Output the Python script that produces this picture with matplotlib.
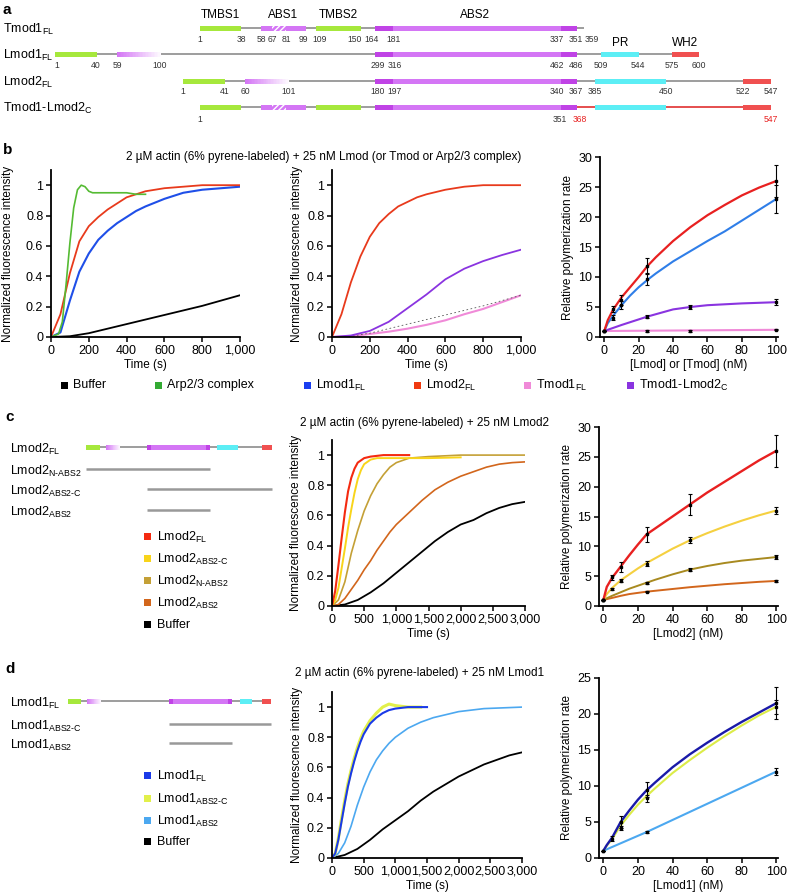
import matplotlib.pyplot as plt
from matplotlib.patches import Rectangle
from matplotlib.ticker import FuncFormatter
import numpy as np

plt.rcParams['font.family'] = ['Liberation Sans', 'DejaVu Sans']
plt.rcParams['mathtext.default'] = 'regular'

W, H = 788, 894

# ---------------- panel b: kinetics (time in s, normalized intensity) ----------------
b_buffer_t = [0, 100, 200, 300, 400, 500, 600, 700, 800, 900, 1000]
b_buffer_y = [0, 0.005, 0.025, 0.055, 0.085, 0.115, 0.145, 0.175, 0.205, 0.24, 0.275]
b_arp_t = [0, 40, 60, 80, 100, 120, 140, 160, 180, 200, 220, 260, 300, 350, 400, 450, 500]
b_arp_y = [0, 0.02, 0.1, 0.35, 0.62, 0.85, 0.97, 1.0, 0.99, 0.96, 0.95, 0.95, 0.95, 0.95, 0.95, 0.94, 0.94]
b_lmod1_t = [0, 50, 100, 150, 200, 250, 300, 350, 400, 450, 500, 600, 700, 800, 900, 1000]
b_lmod1_y = [0, 0.03, 0.24, 0.43, 0.55, 0.64, 0.7, 0.75, 0.79, 0.83, 0.86, 0.91, 0.95, 0.97, 0.98, 0.99]
b_lmod2_t = [0, 50, 100, 150, 200, 250, 300, 350, 400, 450, 500, 600, 700, 800, 1000]
b_lmod2_y = [0, 0.15, 0.42, 0.63, 0.73, 0.79, 0.84, 0.88, 0.92, 0.94, 0.96, 0.98, 0.99, 1.0, 1.0]

b2_lmod2_t = [0, 50, 100, 150, 200, 250, 300, 350, 400, 450, 500, 600, 700, 800, 1000]
b2_lmod2_y = [0, 0.15, 0.36, 0.53, 0.66, 0.75, 0.81, 0.86, 0.89, 0.92, 0.94, 0.97, 0.99, 1.0, 1.0]
b2_chim_t = [0, 100, 200, 300, 400, 500, 600, 700, 800, 900, 1000]
b2_chim_y = [0, 0.01, 0.04, 0.1, 0.19, 0.28, 0.38, 0.45, 0.5, 0.54, 0.575]
b2_tmod1_t = [0, 100, 200, 300, 400, 500, 600, 700, 800, 900, 1000]
b2_tmod1_y = [0, 0.005, 0.02, 0.035, 0.055, 0.08, 0.11, 0.15, 0.185, 0.23, 0.275]

# panel b: relative polymerization rate vs concentration
conc_grid = [0, 2, 5, 10, 15, 20, 25, 30, 40, 50, 60, 70, 80, 90, 100]
b3_lmod2_fit = [1, 2.8, 4.5, 6.6, 8.3, 10.0, 11.8, 13.3, 16.0, 18.3, 20.3, 22.0, 23.6, 24.9, 26.0]
b3_lmod1_fit = [1, 2.3, 3.5, 5.3, 6.9, 8.3, 9.5, 10.6, 12.6, 14.3, 16.0, 17.6, 19.4, 21.2, 23.0]
b3_chim_conc = [0, 10, 25, 40, 50, 60, 80, 100]
b3_chim_fit = [1, 2.0, 3.4, 4.6, 5.0, 5.3, 5.6, 5.8]
b3_tmod_conc = [0, 100]
b3_tmod_fit = [1, 1.2]

b3_lmod2_pc, b3_lmod2_pm, b3_lmod2_pe = [0, 5, 10, 25, 100], [1, 4.6, 6.2, 11.8, 26.0], [0, 0.5, 0.8, 1.3, 2.7]
b3_lmod1_pc, b3_lmod1_pm, b3_lmod1_pe = [0, 5, 10, 25, 100], [1, 3.2, 5.3, 9.6, 23.0], [0, 0.4, 0.7, 1.0, 2.4]
b3_chim_pc, b3_chim_pm, b3_chim_pe = [0, 25, 50, 100], [1, 3.4, 5.0, 5.8], [0, 0.3, 0.4, 0.5]
b3_tmod_pc, b3_tmod_pm, b3_tmod_pe = [0, 25, 50, 100], [1, 1.0, 1.0, 1.2], [0, 0.1, 0.1, 0.1]

# ---------------- panel c ----------------
c_fl_t = [0, 50, 100, 150, 200, 250, 300, 350, 400, 500, 600, 800, 1200]
c_fl_y = [0, 0.1, 0.27, 0.45, 0.62, 0.76, 0.85, 0.91, 0.95, 0.98, 0.99, 1.0, 1.0]
c_abs2c_t = [0, 50, 100, 150, 200, 250, 300, 350, 400, 450, 500, 600, 700, 1000, 1500, 2000]
c_abs2c_y = [0, 0.04, 0.12, 0.25, 0.38, 0.52, 0.64, 0.75, 0.84, 0.9, 0.94, 0.97, 0.98, 0.98, 0.98, 0.985]
c_nabs2_t = [0, 100, 200, 300, 400, 500, 600, 700, 800, 900, 1000, 1200, 1500, 2000, 3000]
c_nabs2_y = [0, 0.04, 0.16, 0.35, 0.5, 0.63, 0.73, 0.81, 0.87, 0.92, 0.95, 0.98, 0.99, 1.0, 1.0]
c_abs2_t = [0, 100, 200, 300, 400, 500, 600, 700, 800, 900, 1000, 1200, 1400, 1600, 1800, 2000, 2200, 2400, 2600, 2800, 3000]
c_abs2_y = [0, 0.01, 0.05, 0.11, 0.17, 0.24, 0.3, 0.37, 0.43, 0.49, 0.54, 0.62, 0.7, 0.77, 0.82, 0.86, 0.89, 0.92, 0.94, 0.95, 0.955]
c_buf_t = [0, 200, 400, 600, 800, 1000, 1200, 1400, 1600, 1800, 2000, 2200, 2400, 2600, 2800, 3000]
c_buf_y = [0, 0.01, 0.04, 0.09, 0.15, 0.22, 0.29, 0.36, 0.43, 0.49, 0.54, 0.57, 0.615, 0.65, 0.675, 0.69]

c_fl_fit = [1, 3.2, 4.7, 6.6, 8.5, 10.3, 12.0, 13.0, 15.0, 17.0, 19.0, 20.8, 22.6, 24.4, 26.0]
c_abs2c_fit = [1, 2.0, 3.0, 4.3, 5.3, 6.3, 7.2, 8.0, 9.6, 11.0, 12.2, 13.3, 14.3, 15.2, 16.0]
c_nabs2_fit = [1, 1.3, 1.7, 2.3, 2.9, 3.4, 3.9, 4.4, 5.3, 6.1, 6.7, 7.2, 7.6, 7.9, 8.2]
c_abs2_fit = [1, 1.15, 1.35, 1.7, 2.0, 2.2, 2.4, 2.55, 2.85, 3.15, 3.4, 3.65, 3.85, 4.05, 4.2]
c_fl_pc, c_fl_pm, c_fl_pe = [0, 5, 10, 25, 50, 100], [1, 4.8, 6.5, 12.0, 17.0, 26.0], [0, 0.4, 0.8, 1.2, 1.8, 2.7]
c_abs2c_pc, c_abs2c_pm, c_abs2c_pe = [0, 5, 10, 25, 50, 100], [1, 2.8, 4.2, 7.1, 11.0, 16.0], [0, 0.15, 0.25, 0.4, 0.5, 0.6]
c_nabs2_pc, c_nabs2_pm, c_nabs2_pe = [0, 25, 50, 100], [1, 3.9, 6.1, 8.2], [0, 0.15, 0.3, 0.4]
c_abs2_pc, c_abs2_pm, c_abs2_pe = [0, 25, 100], [1, 2.4, 4.2], [0, 0.1, 0.2]

# ---------------- panel d ----------------
d_fl_t = [0, 50, 100, 150, 200, 250, 300, 350, 400, 450, 500, 600, 700, 800, 900, 1000, 1200, 1500]
d_fl_y = [0, 0.03, 0.12, 0.24, 0.36, 0.47, 0.56, 0.64, 0.71, 0.77, 0.82, 0.89, 0.93, 0.96, 0.98, 0.99, 1.0, 1.0]
d_abs2c_t = [0, 50, 100, 150, 200, 250, 300, 350, 400, 450, 500, 600, 700, 800, 900, 1000, 1200, 1400]
d_abs2c_y = [0, 0.03, 0.13, 0.26, 0.38, 0.49, 0.58, 0.66, 0.73, 0.79, 0.84, 0.91, 0.96, 1.0, 1.02, 1.01, 1.0, 1.0]
d_abs2_t = [0, 100, 200, 300, 400, 500, 600, 700, 800, 900, 1000, 1200, 1400, 1600, 1800, 2000, 2400, 3000]
d_abs2_y = [0, 0.03, 0.1, 0.21, 0.35, 0.47, 0.57, 0.65, 0.71, 0.76, 0.8, 0.86, 0.9, 0.93, 0.95, 0.97, 0.99, 1.0]
d_buf_t = [0, 200, 400, 600, 800, 1000, 1200, 1400, 1600, 1800, 2000, 2200, 2400, 2600, 2800, 3000]
d_buf_y = [0, 0.02, 0.06, 0.12, 0.19, 0.25, 0.31, 0.38, 0.44, 0.49, 0.54, 0.58, 0.62, 0.65, 0.68, 0.7]

d_fl_fit = [1, 1.8, 2.8, 5.0, 6.6, 8.1, 9.4, 10.5, 12.6, 14.4, 16.0, 17.5, 18.9, 20.2, 21.5]
d_abs2c_fit = [1, 1.7, 2.6, 4.5, 6.0, 7.4, 8.6, 9.7, 11.8, 13.6, 15.3, 16.9, 18.4, 19.8, 21.0]
d_abs2_conc = [0, 25, 100]
d_abs2_fit = [1, 3.6, 12.0]
d_fl_pc, d_fl_pm, d_fl_pe = [0, 5, 10, 25, 100], [1, 2.7, 5.0, 9.5, 21.5], [0, 0.3, 0.8, 1.0, 2.2]
d_abs2c_pc, d_abs2c_pm, d_abs2c_pe = [10, 25, 100], [4.2, 8.3, 21.0], [0.3, 0.5, 1.0]
d_abs2_pc, d_abs2_pm, d_abs2_pe = [0, 25, 100], [1, 3.6, 12.0], [0, 0.15, 0.5]

# colours
GREEN, MAG, MAGD, CYAN, RED, GRAY = '#a6e83c', '#d476f5', '#c043e6', '#5ceef5', '#f05050', '#8c8c8c'

fig = plt.figure(figsize=(W / 100, H / 100), dpi=100)
ov = fig.add_axes([0, 0, 1, 1])
ov.set_xlim(0, W)
ov.set_ylim(H, 0)
ov.axis('off')


def sub(name, s):
    return name + r'$_{\mathregular{' + s.replace('-', '\u2010') + '}}$'


def box(x0, x1, y, color, h=5):
    ov.add_patch(Rectangle((x0, y - h / 2), x1 - x0, h, fc=color, ec='none', zorder=3))


def grad_box(x0, x1, y, h=5):
    n = 30
    edges = np.linspace(x0, x1, n + 1)
    c0 = np.array([0.83, 0.46, 0.96])
    for i in range(n):
        f = i / n
        col = c0 * (1 - f) + np.array([1, 1, 1]) * f
        ov.add_patch(Rectangle((edges[i], y - h / 2), edges[i + 1] - edges[i] + 0.3, h,
                               fc=col, ec='none', zorder=3))


def abs2_box(x0, x1, y, e0, e1, h=5):
    box(x0, x1, y, MAG, h)
    box(x0, e0, y, MAGD, h)
    box(e1, x1, y, MAGD, h)


def hatch_box(x0, x1, y, h=5):
    ov.add_patch(Rectangle((x0, y - h / 2), x1 - x0, h, fc=MAG, ec='white', lw=0,
                           hatch='//////', zorder=4))


def line(x0, x1, y, color=GRAY, lw=1.2):
    ov.plot([x0, x1], [y, y], color=color, lw=lw, zorder=2, solid_capstyle='butt')


# ---------------- panel a ----------------
ov.text(3, 10, 'a', fontsize=11, fontweight='bold', va='center')
for lab, x, y in [('TMBS1', 220, 15), ('ABS1', 283, 15), ('TMBS2', 338, 15), ('ABS2', 475, 15),
                  ('PR', 620, 43), ('WH2', 685, 43)]:
    ov.text(x, y, lab, fontsize=8.5, ha='center', va='center')

row_names = [sub('Tmod1', 'FL'), sub('Lmod1', 'FL'), sub('Lmod2', 'FL'), sub('Tmod1-Lmod2', 'C')]
row_y = [28, 54, 81, 107]
for nm, y in zip(row_names, row_y):
    ov.text(3, y + 1, nm, fontsize=9, va='center')

# Tmod1 FL
y = row_y[0]
line(200, 584, y)
box(200, 241, y, GREEN); box(261, 306, y, MAG); hatch_box(272, 286, y)
box(316, 361, y, GREEN); abs2_box(375, 577, y, 393, 561)
# Lmod1 FL
y = row_y[1]
line(55, 699, y)
box(55, 97, y, GREEN); grad_box(117, 161, y); abs2_box(375, 577, y, 393, 561)
box(601, 639, y, CYAN); box(672, 699, y, RED)
# Lmod2 FL
y = row_y[2]
line(183, 771, y)
box(183, 225, y, GREEN); grad_box(245, 289, y); abs2_box(375, 577, y, 393, 561)
box(595, 666, y, CYAN); box(743, 771, y, RED)
# Tmod1-Lmod2 C
y = row_y[3]
line(200, 577, y); line(577, 771, y, color='#e03030')
box(200, 241, y, GREEN); box(261, 306, y, MAG); hatch_box(272, 286, y)
box(316, 361, y, GREEN); abs2_box(375, 577, y, 393, 561)
box(595, 666, y, CYAN); box(743, 771, y, RED)

res_tmod1 = ['1', '38', '58', '67', '81', '99', '109', '150', '164', '181', '337', '351', '359']
res_tmod1_x = [200, 241, 261, 272, 286, 303, 320, 355, 372, 394, 557, 576, 592]
res_lmod1 = ['1', '40', '59', '100', '299', '316', '462', '486', '509', '544', '575', '600']
res_lmod1_x = [57, 96, 117, 160, 378, 395, 557, 576, 601, 638, 672, 699]
res_lmod2 = ['1', '41', '60', '101', '180', '197', '340', '367', '385', '450', '522', '547']
res_lmod2_x = [183, 225, 245, 289, 378, 395, 557, 576, 595, 666, 743, 771]
res_chim = ['1', '351', '368', '547']
res_chim_x = [200, 560, 580, 771]
res_chim_c = ['#333333', '#333333', '#e82020', '#e82020']
for labs, xs, yy in [(res_tmod1, res_tmod1_x, 39), (res_lmod1, res_lmod1_x, 65), (res_lmod2, res_lmod2_x, 92)]:
    for t, x in zip(labs, xs):
        ov.text(x, yy, t, fontsize=6.2, ha='center', va='center', color='#333333')
for t, x, c in zip(res_chim, res_chim_x, res_chim_c):
    ov.text(x, 119, t, fontsize=6.2, ha='center', va='center', color=c)

# ---------------- helpers for axes ----------------

def px_axes(l, t, r, b):
    ax = fig.add_axes([l / W, 1 - b / H, (r - l) / W, (b - t) / H])
    for s in ['top', 'right']:
        ax.spines[s].set_visible(False)
    for s in ['left', 'bottom']:
        ax.spines[s].set_linewidth(1.3)
    ax.tick_params(direction='out', length=3.5, width=1.1, labelsize=9, pad=2)
    ax.patch.set_alpha(0)
    return ax


yfmt = FuncFormatter(lambda v, p: '0' if v == 0 else ('1' if v == 1 else f'{v:.1f}'))
tfmt = FuncFormatter(lambda v, p: f'{int(v):,}')


def kin_axes(l, t, r, b, tmax, tstep, lab_x=-0.155):
    ax = px_axes(l, t, r, b)
    ax.set_xlim(0, tmax)
    ax.set_ylim(0, 1.1)
    ax.set_xticks(np.arange(0, tmax + 1, tstep))
    ax.set_yticks([0, 0.2, 0.4, 0.6, 0.8, 1.0])
    ax.xaxis.set_major_formatter(tfmt)
    ax.yaxis.set_major_formatter(yfmt)
    ax.set_ylabel('Normalized fluorescence intensity', fontsize=8.5)
    ax.yaxis.set_label_coords(lab_x, 0.5)
    ax.set_xlabel('Time (s)', fontsize=8.5, labelpad=2)
    return ax


def rate_axes(l, t, r, b, ymax, xlabel):
    ax = px_axes(l, t, r, b)
    ax.set_xlim(-2.5, 101)
    ax.set_ylim(0, ymax)
    ax.set_xticks([0, 20, 40, 60, 80, 100])
    ax.set_yticks(np.arange(0, ymax + 1, 5))
    ax.set_ylabel('Relative polymerization rate', fontsize=8.5)
    ax.yaxis.set_label_coords(-0.145, 0.5)
    ax.set_xlabel(xlabel, fontsize=8.5, labelpad=2)
    return ax


def pts(ax, c, m, e):
    ax.errorbar(c, m, yerr=e, fmt='s', ms=2, color='black', ecolor='black',
                elinewidth=0.8, capsize=1.5, capthick=0.8, zorder=5)


# ---------------- panel b ----------------
ov.text(3, 150, 'b', fontsize=11, fontweight='bold', va='center')
ov.text(324, 157, '2 µM actin (6% pyrene-labeled) + 25 nM Lmod (or Tmod or Arp2/3 complex)',
        fontsize=8.5, ha='center', va='center')

B_BLACK, B_GREEN, B_BLUE, B_RED, B_PINK, B_PURP = 'black', '#55bb33', '#1f4fe8', '#e83a1c', '#f08ad8', '#8a34e0'

ax = kin_axes(51, 170, 240, 337, 1000, 200, lab_x=-0.195)
ax.plot(b_buffer_t, b_buffer_y, color=B_BLACK, lw=1.3)
ax.plot(b_lmod1_t, b_lmod1_y, color=B_BLUE, lw=1.5)
ax.plot(b_lmod2_t, b_lmod2_y, color=B_RED, lw=1.3)
ax.plot(b_arp_t, b_arp_y, color=B_GREEN, lw=1.2)

ax = kin_axes(332, 170, 521, 337, 1000, 200)
ax.plot(b2_tmod1_t, b2_tmod1_y, color=B_PINK, lw=1.5)
ax.plot(b_buffer_t, b_buffer_y, color='#555555', lw=0.6, ls=(0, (2, 3)))
ax.plot(b2_chim_t, b2_chim_y, color=B_PURP, lw=1.3)
ax.plot(b2_lmod2_t, b2_lmod2_y, color=B_RED, lw=1.3)

ax = rate_axes(600, 157, 778, 337, 30, '[Lmod] or [Tmod] (nM)')
ax.plot(b3_tmod_conc, b3_tmod_fit, color=B_PINK, lw=1.5)
ax.plot(b3_chim_conc, b3_chim_fit, color=B_PURP, lw=1.5)
ax.plot(conc_grid, b3_lmod1_fit, color='#2f7ee8', lw=1.5)
ax.plot(conc_grid, b3_lmod2_fit, color='#e82020', lw=1.6)
pts(ax, b3_tmod_pc, b3_tmod_pm, b3_tmod_pe)
pts(ax, b3_chim_pc, b3_chim_pm, b3_chim_pe)
pts(ax, b3_lmod1_pc, b3_lmod1_pm, b3_lmod1_pe)
pts(ax, b3_lmod2_pc, b3_lmod2_pm, b3_lmod2_pe)

b_leg_labels = ['Buffer', 'Arp2/3 complex', sub('Lmod1', 'FL'), sub('Lmod2', 'FL'), sub('Tmod1', 'FL'), sub('Tmod1-Lmod2', 'C')]
b_leg_colors = [B_BLACK, '#33aa33', '#1a3ef0', '#f03a10', B_PINK, B_PURP]
b_leg_x = [65, 159, 308, 418, 528, 631]
for lab, col, x in zip(b_leg_labels, b_leg_colors, b_leg_x):
    ov.add_patch(Rectangle((x - 3.5, 385 - 3.5), 7, 7, fc=col, ec='none'))
    ov.text(x + 8, 385, lab, fontsize=9, va='center')

# ---------------- panel c ----------------
ov.text(5, 417, 'c', fontsize=11, fontweight='bold', va='center')
ov.text(425, 423, '2 µM actin (6% pyrene-labeled) + 25 nM Lmod2', fontsize=8.5, ha='center', va='center')

y = 447
ov.text(10, y + 2, sub('Lmod2', 'FL'), fontsize=9, va='center')
line(86, 272, y)
box(86, 100, y, GREEN); grad_box(106, 120, y); abs2_box(147, 210, y, 151, 206)
box(217, 238, y, CYAN); box(262, 272, y, RED)
c_frag_labels = [sub('Lmod2', 'N-ABS2'), sub('Lmod2', 'ABS2-C'), sub('Lmod2', 'ABS2')]
c_frag_span = [(86, 210), (147, 272), (147, 210)]
c_frag_y = [469, 489, 510]
for lab, (x0, x1), yy in zip(c_frag_labels, c_frag_span, c_frag_y):
    ov.text(10, yy + 2, lab, fontsize=9, va='center')
    line(x0, x1, yy, color='#999999', lw=1.8)

C_RED, C_YEL, C_OLIVE, C_ORANGE = '#f42a10', '#f8d41a', '#c4a036', '#d2661c'
c_leg_labels = [sub('Lmod2', 'FL'), sub('Lmod2', 'ABS2-C'), sub('Lmod2', 'N-ABS2'), sub('Lmod2', 'ABS2'), 'Buffer']
c_leg_colors = [C_RED, C_YEL, C_OLIVE, C_ORANGE, 'black']
c_leg_y = [536, 558, 580, 602, 624]
for lab, col, yy in zip(c_leg_labels, c_leg_colors, c_leg_y):
    ov.add_patch(Rectangle((148 - 3.5, yy - 3.5), 7, 7, fc=col, ec='none'))
    ov.text(157, yy + 1, lab, fontsize=9, va='center')

ax = kin_axes(332, 440, 525, 606, 3000, 500)
ax.plot(c_buf_t, c_buf_y, color='black', lw=1.3)
ax.plot(c_abs2_t, c_abs2_y, color=C_ORANGE, lw=1.2)
ax.plot(c_nabs2_t, c_nabs2_y, color=C_OLIVE, lw=1.2)
ax.plot(c_abs2c_t, c_abs2c_y, color=C_YEL, lw=1.4)
ax.plot(c_fl_t, c_fl_y, color=C_RED, lw=1.5)

ax = rate_axes(599, 427, 778, 606, 30, '[Lmod2] (nM)')
ax.plot(conc_grid, c_abs2_fit, color=C_ORANGE, lw=1.4)
ax.plot(conc_grid, c_nabs2_fit, color='#a88a20', lw=1.4)
ax.plot(conc_grid, c_abs2c_fit, color='#f5d040', lw=1.5)
ax.plot(conc_grid, c_fl_fit, color='#e82020', lw=1.7)
pts(ax, c_abs2_pc, c_abs2_pm, c_abs2_pe)
pts(ax, c_nabs2_pc, c_nabs2_pm, c_nabs2_pe)
pts(ax, c_abs2c_pc, c_abs2c_pm, c_abs2c_pe)
pts(ax, c_fl_pc, c_fl_pm, c_fl_pe)

# ---------------- panel d ----------------
ov.text(5, 669, 'd', fontsize=11, fontweight='bold', va='center')
ov.text(420, 673, '2 µM actin (6% pyrene-labeled) + 25 nM Lmod1', fontsize=8.5, ha='center', va='center')

y = 701
ov.text(10, y + 2, sub('Lmod1', 'FL'), fontsize=9, va='center')
line(68, 271, y)
box(68, 81, y, GREEN); grad_box(87, 101, y); abs2_box(169, 232, y, 173, 228)
box(240, 252, y, CYAN); box(262, 271, y, RED)
d_frag_labels = [sub('Lmod1', 'ABS2-C'), sub('Lmod1', 'ABS2')]
d_frag_span = [(169, 271), (169, 232)]
d_frag_y = [724, 743]
for lab, (x0, x1), yy in zip(d_frag_labels, d_frag_span, d_frag_y):
    ov.text(10, yy + 2, lab, fontsize=9, va='center')
    line(x0, x1, yy, color='#999999', lw=1.8)

D_BLUE, D_YEL, D_LBLUE = '#1a3ae8', '#e2f04a', '#4ca8f0'
d_leg_labels = [sub('Lmod1', 'FL'), sub('Lmod1', 'ABS2-C'), sub('Lmod1', 'ABS2'), 'Buffer']
d_leg_colors = [D_BLUE, D_YEL, D_LBLUE, 'black']
d_leg_y = [775, 798, 820, 841]
for lab, col, yy in zip(d_leg_labels, d_leg_colors, d_leg_y):
    ov.add_patch(Rectangle((148 - 3.5, yy - 3.5), 7, 7, fc=col, ec='none'))
    ov.text(157, yy + 1, lab, fontsize=9, va='center')

ax = kin_axes(332, 692, 522, 858, 3000, 500)
ax.plot(d_buf_t, d_buf_y, color='black', lw=1.3)
ax.plot(d_abs2_t, d_abs2_y, color=D_LBLUE, lw=1.2)
ax.plot(d_abs2c_t, d_abs2c_y, color=D_YEL, lw=2.2)
ax.plot(d_fl_t, d_fl_y, color=D_BLUE, lw=1.5)

ax = rate_axes(599, 678, 778, 858, 25, '[Lmod1] (nM)')
ax.plot(d_abs2_conc, d_abs2_fit, color=D_LBLUE, lw=1.5)
ax.plot(conc_grid, d_abs2c_fit, color='#dcec48', lw=1.5)
ax.plot(conc_grid, d_fl_fit, color='#1a1aa8', lw=1.7)
pts(ax, d_abs2_pc, d_abs2_pm, d_abs2_pe)
pts(ax, d_abs2c_pc, d_abs2c_pm, d_abs2c_pe)
pts(ax, d_fl_pc, d_fl_pm, d_fl_pe)

fig.savefig('out.png', dpi=100)
